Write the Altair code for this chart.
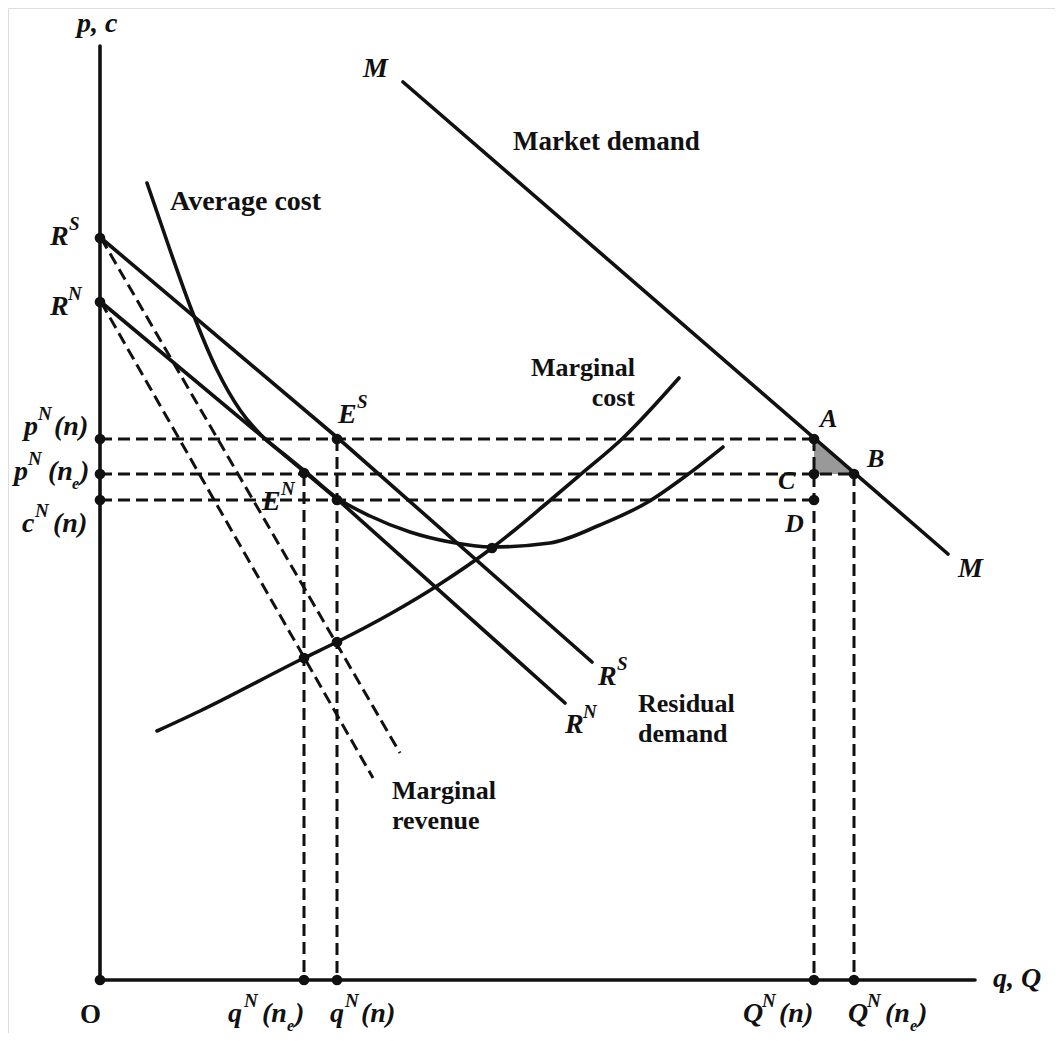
import altair as alt
import pandas as pd

# ---- values (q = quantity, p = price / cost) ----
market_q = [303, 848]
market_p = [898, 426]
rs_q = [1, 239, 492]          # residual demand R^S
rs_p = [742, 541, 318]
rn_q = [1, 237, 465]          # residual demand R^N
rn_p = [678, 481, 277]
mrs_q = [1, 300]              # marginal revenue (from R^S)
mrs_p = [742, 227]
mrn_q = [1, 273]              # marginal revenue (from R^N)
mrn_p = [678, 202]
ac_q = [47, 70, 92, 117, 140, 162, 185, 207, 237, 270, 310, 350, 392, 450, 500, 548, 587, 623]
ac_p = [797, 730, 669, 610, 570, 544, 525, 507, 482, 464, 448, 438, 433, 437, 455, 478, 505, 533]
mc_q = [57, 100, 204, 237, 290, 340, 392, 447, 480, 523, 579]
mc_p = [249, 269, 322, 338, 366, 396, 432, 477, 505, 542, 602]

RS, RN = 742, 678
pN_n, pN_ne, cN_n = 541, 506, 480
qN_ne, qN_n, QN_n, QN_ne = 204, 237, 714, 754
ac_min = (392, 432)
mc_at_qne, mc_at_qn = 322, 338
y_top, x_end = 934, 875

XD = [-92, 955]
YD = [-53, 972]

def px(x):
    return x - 100

def py(y):
    return 980 - y

# ---- build tables ----
def add(rows, name, qs, ps):
    for i, (a, b) in enumerate(zip(qs, ps)):
        rows.append({"id": name, "ord": i, "q": a, "p": b})

solid = []
add(solid, "yaxis", [0, 0], [0, y_top])
add(solid, "xaxis", [0, x_end], [0, 0])
add(solid, "market", market_q, market_p)
add(solid, "rs", rs_q, rs_p)
add(solid, "rn", rn_q, rn_p)

curves = []
add(curves, "ac", ac_q, ac_p)
add(curves, "mc", mc_q, mc_p)

dashed = []
add(dashed, "mrs", mrs_q, mrs_p)
add(dashed, "mrn", mrn_q, mrn_p)
add(dashed, "h1", [0, QN_n], [pN_n, pN_n])
add(dashed, "h2", [0, QN_ne], [pN_ne, pN_ne])
add(dashed, "h3", [0, QN_n], [cN_n, cN_n])
add(dashed, "v1", [qN_ne, qN_ne], [pN_ne, 0])
add(dashed, "v2", [qN_n, qN_n], [pN_n, 0])
add(dashed, "v3", [QN_n, QN_n], [pN_n, 0])
add(dashed, "v4", [QN_ne, QN_ne], [pN_ne, 0])

dots_q = [0, 0, 0, 0, 0, 0, qN_ne, qN_n, QN_n, QN_ne,
          qN_n, qN_ne, qN_n, ac_min[0], qN_ne, qN_n, QN_n, QN_ne, QN_n, QN_n]
dots_p = [RS, RN, pN_n, pN_ne, cN_n, 0, 0, 0, 0, 0,
          pN_n, pN_ne + 1, cN_n, ac_min[1], mc_at_qne, mc_at_qn, pN_n, pN_ne, pN_ne, cN_n]

shade = pd.DataFrame({"q": [QN_n, QN_ne], "p": [pN_n, pN_ne], "p2": [pN_ne, pN_ne]})

# label pieces: (text, left px, baseline px, font size)
math_labels = [
    ("p, c", 77, 32, 28),
    ("M", 363, 77, 28), ("M", 958, 577, 28),
    ("R", 50, 245, 28), ("S", 69, 230, 19),
    ("R", 50, 315, 28), ("N", 68, 300, 19),
    ("p", 24, 435, 28), ("N", 38, 420, 19), ("(n)", 54, 435, 28),
    ("p", 14, 480, 28), ("N", 28, 465, 19), ("(n", 48, 480, 28), ("e", 72, 489, 16), (")", 80, 480, 28),
    ("c", 22, 532, 28), ("N", 35, 517, 19), ("(n)", 53, 532, 28),
    ("E", 338, 423, 28), ("S", 357, 408, 19),
    ("E", 262, 510, 28), ("N", 281, 495, 19),
    ("A", 820, 427, 26), ("B", 867, 467, 26), ("C", 778, 489, 26), ("D", 785, 532, 26),
    ("R", 598, 685, 28), ("S", 617, 670, 19),
    ("R", 565, 733, 28), ("N", 583, 718, 19),
    ("q", 228, 1022, 28), ("N", 244, 1007, 19), ("(n", 262, 1022, 28), ("e", 287, 1031, 16), (")", 295, 1022, 28),
    ("q", 330, 1022, 28), ("N", 345, 1007, 19), ("(n)", 361, 1022, 28),
    ("Q", 743, 1022, 28), ("N", 762, 1007, 19), ("(n)", 779, 1022, 28),
    ("Q", 848, 1022, 28), ("N", 867, 1007, 19), ("(n", 885, 1022, 28), ("e", 910, 1031, 16), (")", 918, 1022, 28),
    ("q, Q", 993, 987, 28),
]
word_left = [
    ("O", 80, 1023, 27),
    ("Market demand", 513, 150, 27),
    ("Average cost", 170, 210, 28),
    ("Residual", 638, 712, 26), ("demand", 638, 742, 26),
    ("Marginal", 392, 799, 26), ("revenue", 392, 829, 26),
]
word_right = [
    ("Marginal", 635, 376, 26), ("cost", 635, 406, 26),
]

def label_df(rows):
    return pd.DataFrame({
        "text": [r[0] for r in rows],
        "q": [px(r[1]) for r in rows],
        "p": [py(r[2]) for r in rows],
        "fs": [r[3] for r in rows],
    })

X = alt.X("q:Q", scale=alt.Scale(domain=XD), axis=None)
Y = alt.Y("p:Q", scale=alt.Scale(domain=YD), axis=None)
INK = "#111111"

solid_layer = alt.Chart(pd.DataFrame(solid)).mark_line(
    color=INK, strokeWidth=3.6, strokeCap="round"
).encode(x=X, y=Y, detail="id:N", order="ord:Q")

curve_layer = alt.Chart(pd.DataFrame(curves)).mark_line(
    color=INK, strokeWidth=3.6, strokeCap="round", interpolate="monotone"
).encode(x=X, y=Y, detail="id:N", order="ord:Q")

dash_layer = alt.Chart(pd.DataFrame(dashed)).mark_line(
    color=INK, strokeWidth=3, strokeDash=[12, 6]
).encode(x=X, y=Y, detail="id:N", order="ord:Q")

shade_layer = alt.Chart(shade).mark_area(color="#8e8e8e", opacity=0.9).encode(
    x=X, y=Y, y2="p2:Q"
)

dot_layer = alt.Chart(pd.DataFrame({"q": dots_q, "p": dots_p})).mark_circle(
    color=INK, size=115, opacity=1
).encode(x=X, y=Y)

def text_layer(rows, align, italic):
    kw = dict(align=align, baseline="alphabetic", font="Liberation Serif",
              fontWeight="bold", color=INK)
    if italic:
        kw["fontStyle"] = "italic"
    return alt.Chart(label_df(rows)).mark_text(**kw).encode(
        x=X, y=Y, text="text:N", size=alt.Size("fs:Q", scale=None, legend=None)
    )

chart = alt.layer(
    shade_layer, dash_layer, solid_layer, curve_layer, dot_layer,
    text_layer(math_labels, "left", True),
    text_layer(word_left, "left", False),
    text_layer(word_right, "right", False),
).properties(
    width=1047, height=1025, padding=0, autosize=alt.AutoSizeParams(type="none")
).configure_view(stroke=None).configure(background="white")

chart.save("out.html", embed_options={"renderer": "svg", "actions": False})
